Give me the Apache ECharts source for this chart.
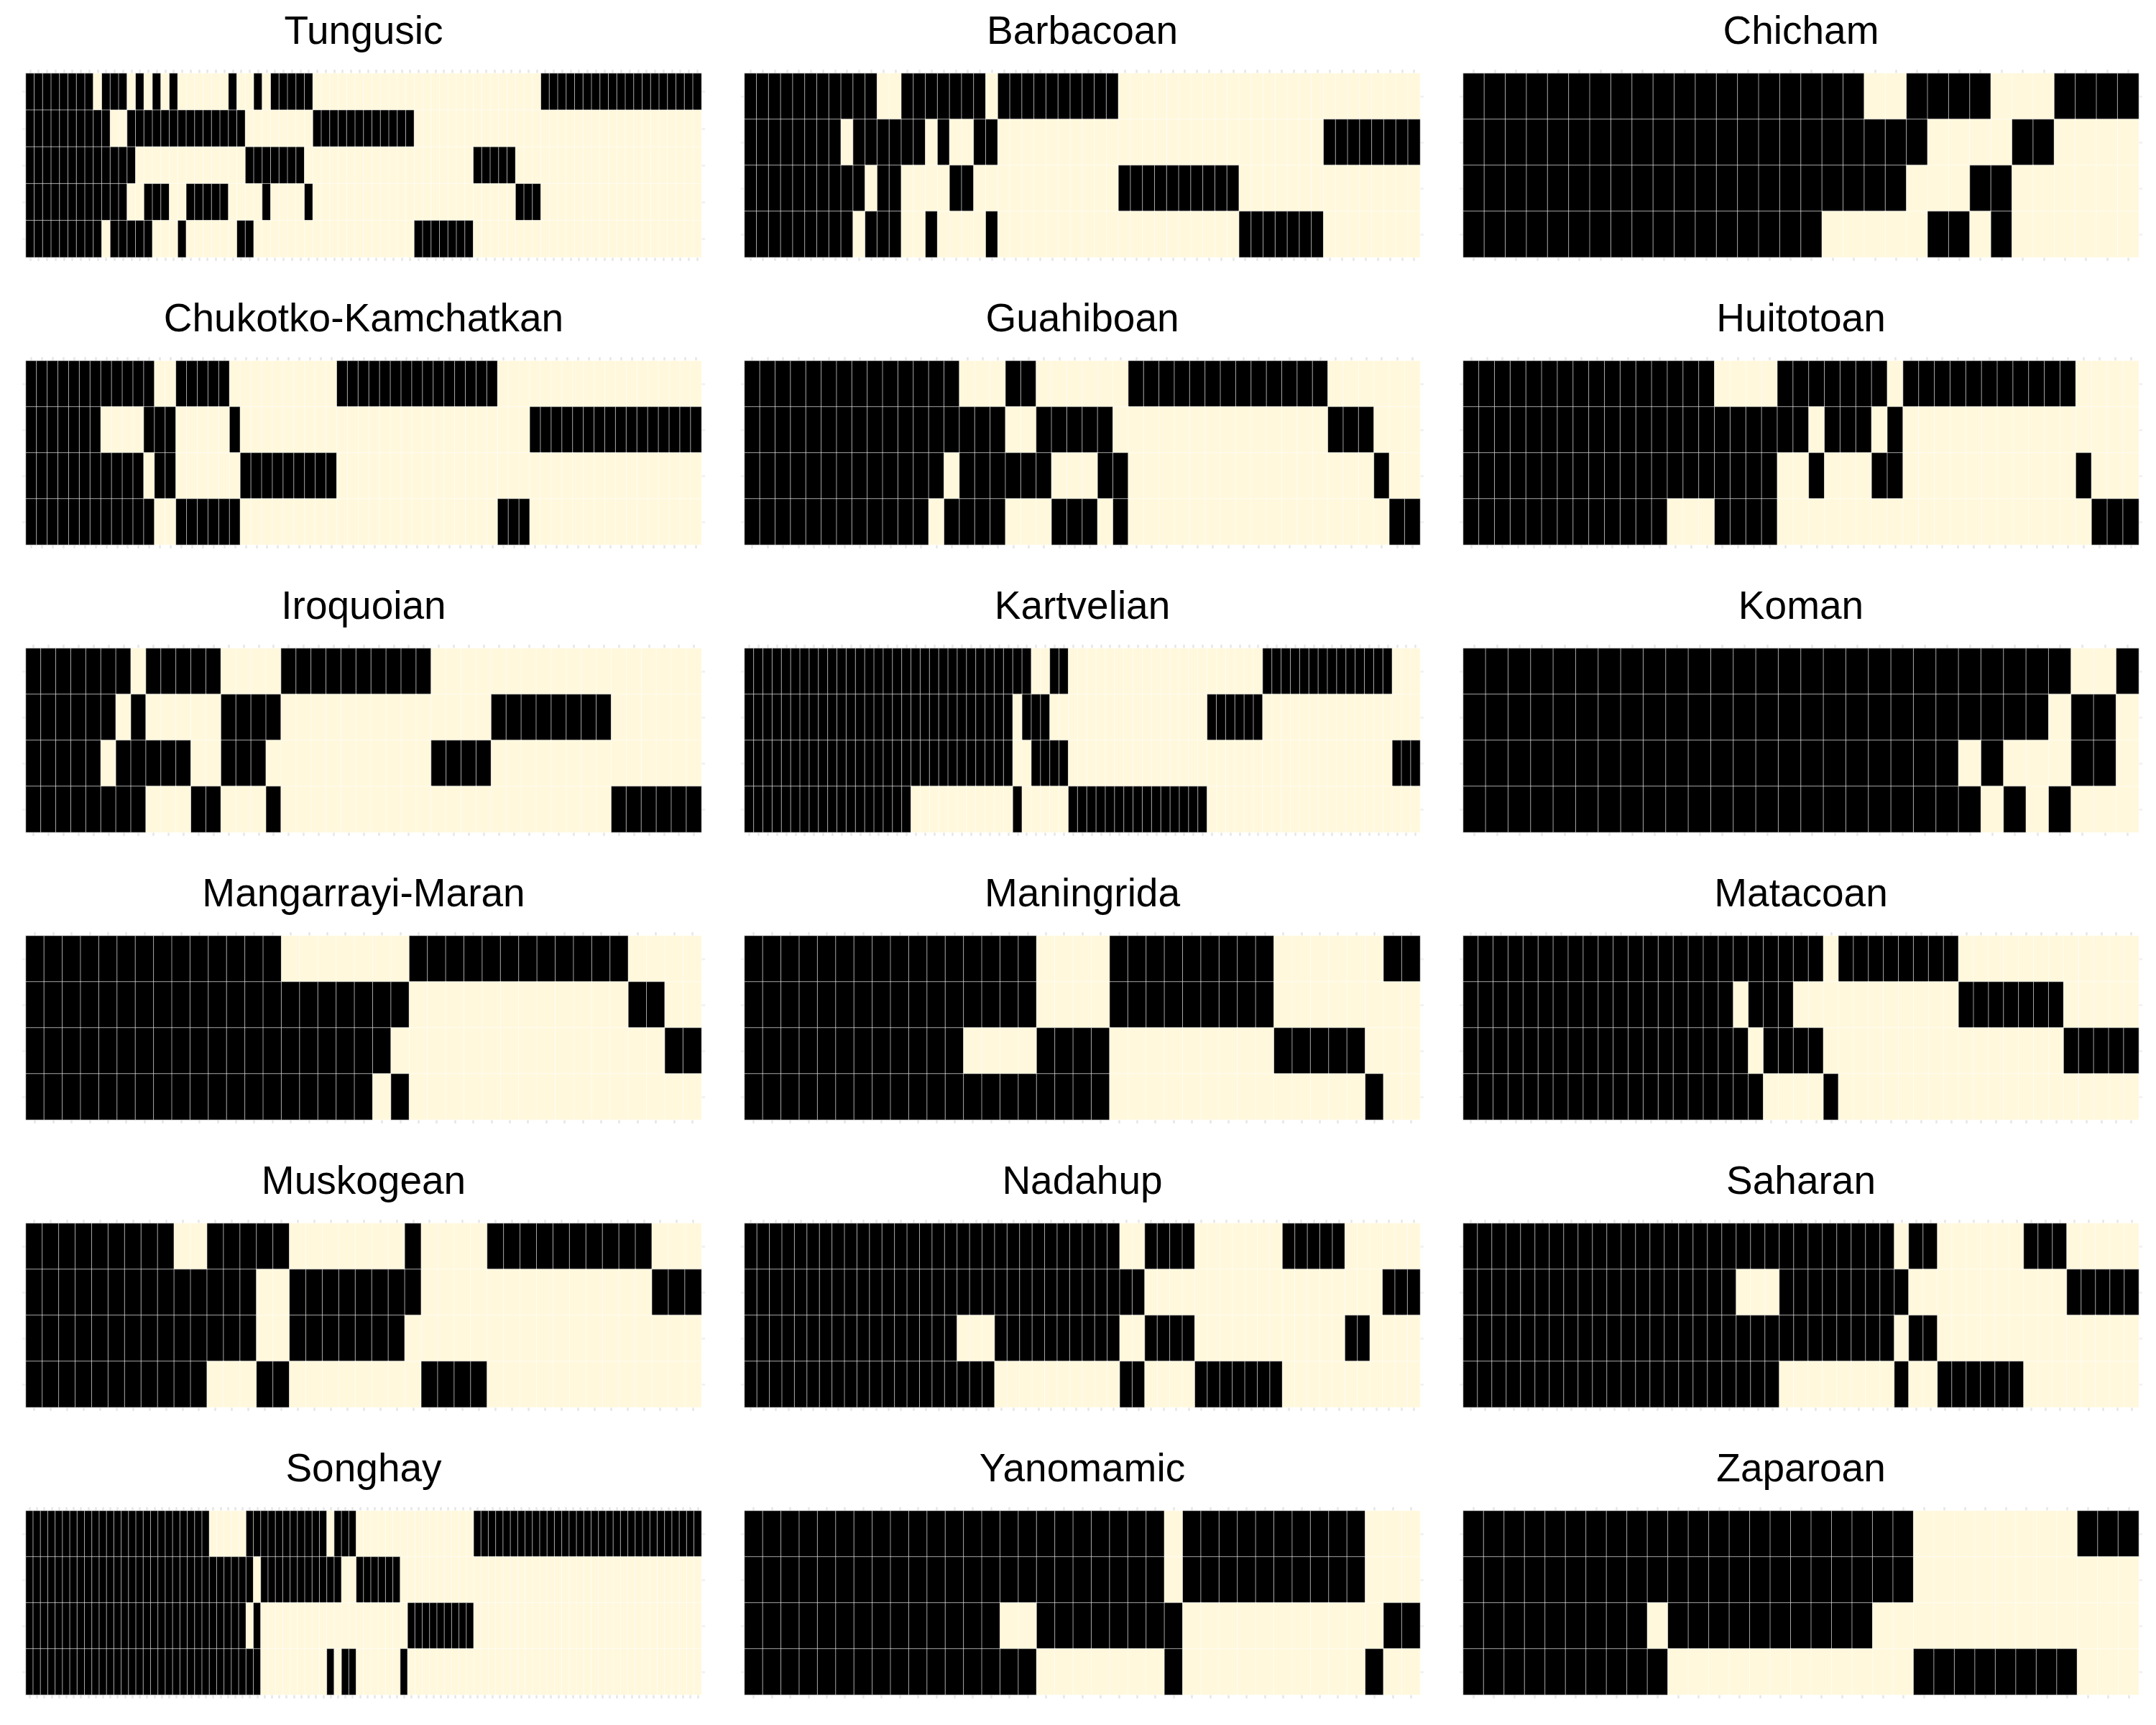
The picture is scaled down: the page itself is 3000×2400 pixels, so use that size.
<!DOCTYPE html>
<html><head><meta charset="utf-8">
<script src="https://cdn.jsdelivr.net/npm/echarts@6/dist/echarts.min.js"></script>
<style>html,body{margin:0;padding:0;background:#fff}#chart{width:3000px;height:2400px}</style>
</head><body><div id="chart"></div>
<script>
// Panel titles (language families), in reading order
const families = ["Tungusic","Barbacoan","Chicham","Chukotko-Kamchatkan","Guahiboan","Huitotoan","Iroquoian","Kartvelian","Koman","Mangarrayi-Maran","Maningrida","Matacoan","Muskogean","Nadahup","Saharan","Songhay","Yanomamic","Zaparoan"];

// Presence (1 = black) / absence (0 = cream) per row, top row first; spaces only group digits by ten
const Tungusic = [
"1111111101 1101010100 0000100101 1111000000 0000000000 0000000000 0111111111 1111111111",
"1111111111 0011111111 1111110000 0000111111 1111110000 0000000000 0000000000 0000000000",
"1111111111 1110000000 0000001111 1110000000 0000000000 0001111100 0000000000 0000000000",
"1111111111 1100111001 1111000010 0001000000 0000000000 0000000011 1000000000 0000000000",
"1111111110 1111100010 0000011000 0000000000 0000001111 1110000000 0000000000 0000000000"];
const Barbacoan = [
"1111111111 1001111111 0111111111 1000000000 0000000000 000000",
"1111111101 1111101001 1000000000 0000000000 0000000011 111111",
"1111111111 0110000110 0000000000 0111111111 1000000000 000000",
"1111111110 1110010000 1000000000 0000000000 0111111100 000000"];
const Chicham = [
"1111111111 1111111110 0111100011 11",
"1111111111 1111111111 1100001100 00",
"1111111111 1111111111 1000110000 00",
"1111111111 1111111000 0011010000 00"];
const ChukotkoKamchatkan = [
"1111111111 1100111110 0000000001 1111111111 1111000000 0000000000 000",
"1111111000 0111000001 0000000000 0000000000 0000000111 1111111111 111",
"1111111111 1011000000 1111111110 0000000000 0000000000 0000000000 000",
"1111111111 1100111111 0000000000 0000000000 0000111000 0000000000 000"];
const Guahiboan = [
"1111111111 1111000110 0000011111 1111111100 0000",
"1111111111 1111111001 1111000000 0000000011 1000",
"1111111111 1110111111 0001100000 0000000000 0100",
"1111111111 1101111000 1110100000 0000000000 0011"];
const Huitotoan = [
"1111111111 1111110000 1111111011 1111111110 000",
"1111111111 1111111111 1101110100 0000000000 000",
"1111111111 1111111111 0010001100 0000000001 000",
"1111111111 1110001111 0000000000 0000000000 111"];
const Iroquoian = [
"1111111011 1110000111 1111111000 0000000000 00000",
"1111110100 0001111000 0000000000 0111111110 00000",
"1111101111 1001110000 0000000111 1000000000 00000",
"1111111100 0110001000 0000000000 0000000001 11111"];
const Kartvelian = [
"1111111111 1111111111 1111111111 1001100000 0000000000 0000001111 1111111111 000",
"1111111111 1111111111 1111111110 1110000000 0000000000 1111110000 0000000000 000",
"1111111111 1111111111 1111111110 0111100000 0000000000 0000000000 0000000000 111",
"1111111111 1111111100 0000000001 0000011111 1111111111 0000000000 0000000000 000"];
const Koman = [
"1111111111 1111111111 1111111001",
"1111111111 1111111111 1111110110",
"1111111111 1111111111 1101000110",
"1111111111 1111111111 1110101000"];
const MangarrayiMaran = [
"1111111111 1111000000 0111111111 1110000",
"1111111111 1111111111 1000000000 0001100",
"1111111111 1111111111 0000000000 0000011",
"1111111111 1111111110 1000000000 0000000"];
const Maningrida = [
"1111111111 1111110000 1111111110 0000011",
"1111111111 1111110000 1111111110 0000000",
"1111111111 1100001111 0000000001 1111000",
"1111111111 1111111111 0000000000 0000100"];
const Matacoan = [
"1111111111 1111111111 1111011111 1110000000 00000",
"1111111111 1111111101 1100000000 0001111111 00000",
"1111111111 1111111110 1111000000 0000000000 11111",
"1111111111 1111111111 0000100000 0000000000 00000"];
const Muskogean = [
"1111111110 0111110000 0001000011 1111111100 0",
"1111111111 1111001111 1111000000 0000000011 1",
"1111111111 1111001111 1110000000 0000000000 0",
"1111111111 1000110000 0000111100 0000000000 0"];
const Nadahup = [
"1111111111 1111111111 1111111111 0011110000 0001111100 0000",
"1111111111 1111111111 1111111111 1100000000 0000000000 0111",
"1111111111 1111111000 1111111111 0011110000 0000000011 0000",
"1111111111 1111111111 0000000000 1100001111 1110000000 0000"];
const Saharan = [
"1111111111 1111111111 1111111111 0110000001 1100000",
"1111111111 1111111110 0011111111 1000000000 0011111",
"1111111111 1111111111 1111111111 0110000000 0000000",
"1111111111 1111111111 1100000000 1001111110 0000000"];
const Songhay = [
"1111111111 1111111111 1111100000 1111111111 1011100000 0000000000 0111111111 1111111111 1111111111 11",
"1111111111 1111111111 1111111111 1011111111 1110011111 1000000000 0000000000 0000000000 0000000000 00",
"1111111111 1111111111 1111111111 0100000000 0000000000 0011111111 1000000000 0000000000 0000000000 00",
"1111111111 1111111111 1111111111 1100000000 0101100000 0100000000 0000000000 0000000000 0000000000 00"];
const Yanomamic = [
"1111111111 1111111111 1110111111 1111000",
"1111111111 1111111111 1110111111 1111000",
"1111111111 1111001111 1111000000 0000011",
"1111111111 1111110000 0001000000 0000100"];
const Zaparoan = [
"1111111111 1111111111 1100000000 111",
"1111111111 1111111111 1100000000 000",
"1111111110 1111111111 0000000000 000",
"1111111111 0000000000 0011111111 000"];

const panels = [Tungusic, Barbacoan, Chicham, ChukotkoKamchatkan, Guahiboan, Huitotoan, Iroquoian, Kartvelian, Koman, MangarrayiMaran, Maningrida, Matacoan, Muskogean, Nadahup, Saharan, Songhay, Yanomamic, Zaparoan];

// layout
const colLeft = [36, 1036, 2036], rowTop = [102, 502, 902, 1302, 1702, 2102];
const W = 940, H = 256;
const CREAM = '#FFF8DC', BLACK = '#000000';

const grid = [], xAxis = [], yAxis = [], series = [], title = [];
panels.forEach((rows, i) => {
  const c = i % 3, r = Math.floor(i / 3);
  const mat = rows.map(s => s.replace(/ /g, '').split('').map(Number));
  grid.push({left: colLeft[c], top: rowTop[r], width: W, height: H});
  const xcats = mat[0].map((_, k) => String(k + 1));
  const ycats = mat.map((_, k) => String(k + 1));
  ['bottom', 'top'].forEach(pos => xAxis.push({
    type: 'category', gridIndex: i, position: pos, data: xcats,
    axisLine: {show: false}, axisLabel: {show: false}, splitLine: {show: false},
    axisTick: {show: true, alignWithLabel: true, interval: 0, length: 5, lineStyle: {color: '#e6e6e6', width: 2.5}}
  }));
  ['left', 'right'].forEach(pos => yAxis.push({
    type: 'category', gridIndex: i, position: pos, inverse: true, data: ycats,
    axisLine: {show: false}, axisLabel: {show: false}, splitLine: {show: false},
    axisTick: {show: true, alignWithLabel: true, interval: 0, length: 5, lineStyle: {color: '#f0f0f0', width: 2.5}}
  }));
  const data = [];
  mat.forEach((row, y) => row.forEach((v, x) => data.push([x, y, v])));
  series.push({
    type: 'heatmap', xAxisIndex: 2 * i, yAxisIndex: 2 * i, data: data,
    itemStyle: {borderColor: '#ffffff', borderWidth: 0.6},
    emphasis: {disabled: true}, progressive: 0
  });
  title.push({
    text: families[i], left: colLeft[c] + W / 2, top: rowTop[r] - 84, textAlign: 'center', padding: 0,
    textStyle: {fontFamily: 'Liberation Sans, Arial, sans-serif', fontSize: 55, fontWeight: 'normal', color: '#000'}
  });
});

const chart = echarts.init(document.getElementById('chart'), null, {renderer: 'canvas'});
chart.setOption({
  animation: false,
  backgroundColor: '#ffffff',
  title: title, grid: grid, xAxis: xAxis, yAxis: yAxis,
  visualMap: {type: 'piecewise', show: false, dimension: 2, seriesIndex: series.map((_, k) => k),
    pieces: [{value: 0, color: CREAM}, {value: 1, color: BLACK}]},
  series: series
});
</script></body></html>
